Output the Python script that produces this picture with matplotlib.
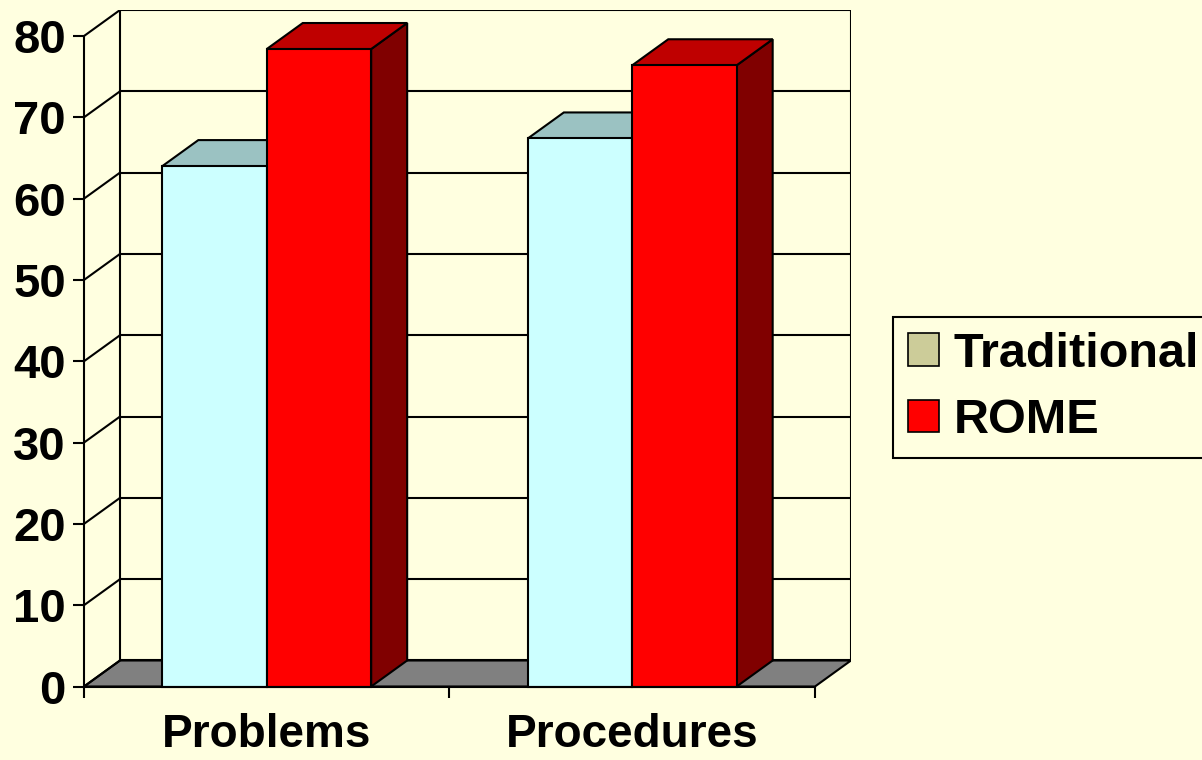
import matplotlib
matplotlib.use("Agg")
import matplotlib.pyplot as plt
from matplotlib.patches import Polygon, Rectangle, Patch

categories = ["Problems", "Procedures"]
series = ["Traditional", "ROME"]
traditional = [64.0, 67.4]
rome = [78.4, 76.4]
yticks = [0, 10, 20, 30, 40, 50, 60, 70, 80]

bg = "#FFFFE0"
front_col = {"Traditional": "#CCFFFF", "ROME": "#FF0000"}
top_col = {"Traditional": "#9BC2C2", "ROME": "#BF0000"}
side_col = {"Traditional": "#99CCCC", "ROME": "#800000"}
legend_col = {"Traditional": "#CCCC99", "ROME": "#FF0000"}

# depth offset of the fake 3d box, in data units
dx = 0.0985
dy = 3.2
ymax = 80
ncat = len(categories)
bar_w = 1 / 3.5
gap = 0.75 / 3.5
lw = 1.5

fig = plt.figure(figsize=(12.02, 7.6), dpi=100, facecolor=bg)
ax = fig.add_axes([84 / 1202, 73.5 / 760, 767 / 1202, 676.5 / 760])
ax.set_facecolor("none")
ax.set_xlim(0, ncat + dx)
ax.set_ylim(0, ymax + dy)

# floor
ax.add_patch(Polygon([(0, 0), (dx, dy), (ncat + dx, dy), (ncat, 0)],
                     closed=True, facecolor="#808080", edgecolor="black", lw=lw, zorder=1))

# walls and gridlines
for k in yticks:
    ax.plot([dx, ncat + dx], [k + dy, k + dy], color="black", lw=lw, zorder=1)
    ax.plot([0, dx], [k, k + dy], color="black", lw=lw, zorder=1)
ax.plot([dx, dx], [dy, ymax + dy], color="black", lw=lw, zorder=1)
ax.plot([ncat + dx, ncat + dx], [dy, ymax + dy], color="black", lw=lw, zorder=1)

# bars
values = {"Traditional": traditional, "ROME": rome}
z = 2
for i in range(ncat):
    for j, s in enumerate(series):
        v = values[s][i]
        x0 = i + gap + j * bar_w
        x1 = x0 + bar_w
        ax.add_patch(Polygon([(x1, 0), (x1 + dx, dy), (x1 + dx, v + dy), (x1, v)],
                             closed=True, facecolor=side_col[s], edgecolor="black",
                             lw=lw, zorder=z, clip_on=False))
        ax.add_patch(Polygon([(x0, v), (x0 + dx, v + dy), (x1 + dx, v + dy), (x1, v)],
                             closed=True, facecolor=top_col[s], edgecolor="black",
                             lw=lw, zorder=z, clip_on=False))
        ax.add_patch(Rectangle((x0, 0), bar_w, v, facecolor=front_col[s],
                               edgecolor="black", lw=lw, zorder=z + 0.5, clip_on=False))
        z += 1

# axes
for sp in ["top", "right"]:
    ax.spines[sp].set_visible(False)
ax.spines["left"].set_bounds(0, ymax)
ax.spines["bottom"].set_bounds(0, ncat)
ax.spines["left"].set_linewidth(lw)
ax.spines["bottom"].set_linewidth(lw)
ax.spines["left"].set_zorder(10)
ax.spines["bottom"].set_zorder(10)

font = "Liberation Sans"
ax.set_yticks(yticks)
ax.set_yticklabels([str(t) for t in yticks], fontsize=34, fontweight="bold", family=font)
ax.tick_params(axis="y", direction="out", length=8, width=lw, pad=5)

ax.set_xticks(range(ncat + 1))
ax.set_xticklabels([])
ax.set_xticks([i + 0.5 for i in range(ncat)], minor=True)
ax.set_xticklabels(categories, minor=True, fontsize=33, fontweight="bold", family=font)
ax.tick_params(axis="x", which="major", direction="out", length=8, width=lw)
ax.tick_params(axis="x", which="minor", length=0, pad=19)

handles = [Patch(facecolor=legend_col[s], edgecolor="black", lw=1.2) for s in series]
leg = fig.legend(handles, series, loc="upper left",
                 bbox_to_anchor=(893 / 1202, 1 - 317 / 760),
                 bbox_transform=fig.transFigure, borderaxespad=0,
                 prop={"family": font, "weight": "bold", "size": 35},
                 handlelength=0.64, handleheight=0.64, handletextpad=0.3,
                 borderpad=0.3, labelspacing=0.45, fancybox=False,
                 facecolor=bg, edgecolor="black", framealpha=1)
leg.get_frame().set_linewidth(lw)

fig.savefig("out.png", dpi=100, facecolor=bg)
